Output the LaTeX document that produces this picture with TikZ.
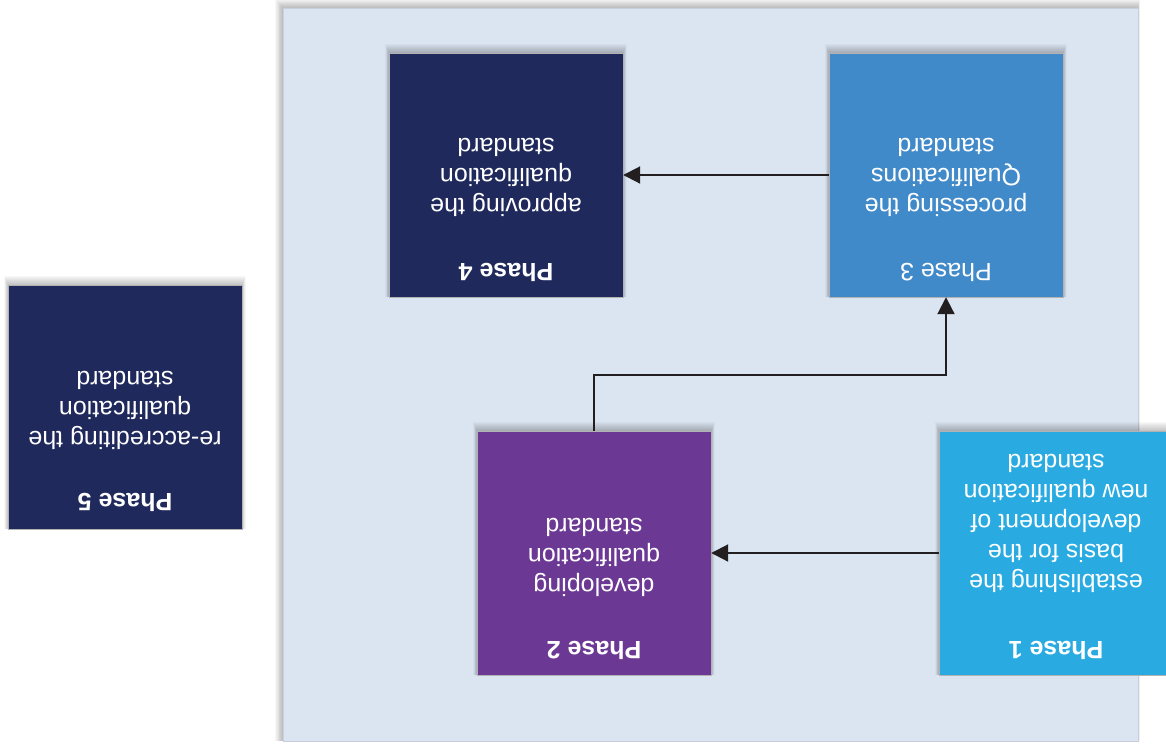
\documentclass[tikz,border=0pt]{standalone}
\usepackage{fontspec}
\setmainfont{Liberation Sans}
\usetikzlibrary{arrows.meta}
\definecolor{panelbg}{HTML}{DAE5F1}
\definecolor{panelln}{HTML}{C5D0DC}
\definecolor{navy}{HTML}{1F295C}
\definecolor{midblue}{HTML}{418AC9}
\definecolor{purple}{HTML}{6B3894}
\definecolor{skyblue}{HTML}{29ABE2}
\definecolor{arrowc}{HTML}{231F20}
\newcommand\mkshadow[4]{%
  \foreach \d in {1,...,9}{%
    \fill[black,opacity=0.028] (#1-\d*0.4,#2-\d) rectangle (#3+\d*0.4,#4);}}
\tikzset{
  phasebox/.style={rectangle,minimum width=234pt,minimum height=244pt,inner sep=0pt,draw=white!70!black,line width=0.4pt},
  phtitle/.style={rotate=180,text=white,font=\fontsize{25}{30}\selectfont\bfseries,inner sep=0pt},
  phbody/.style={rotate=180,text=white,align=center,font=\fontsize{25}{30}\selectfont,inner sep=0pt},
  arr/.style={draw=arrowc,line width=2pt,-{Triangle[length=17pt,width=17pt]}}
}
\begin{document}
\begin{tikzpicture}[x=1pt,y=-1pt]
\useasboundingbox (0,0) rectangle (1166,744);
% panel shadow
\foreach \d in {1,...,9}{%
  \fill[black,opacity=0.03] (283-\d*0.9,8-\d) rectangle (1138+\d*0.2,741);}
\fill[panelbg] (283,8) rectangle (1138,741);
\draw[panelln,line width=0.8pt] (283,8) rectangle (1138,741);
% box shadows
\mkshadow{389}{53}{623}{297}
\mkshadow{829}{53}{1063}{297}
\mkshadow{477}{431}{711}{675}
\mkshadow{939}{431}{1173}{675}
\mkshadow{8}{285}{242}{529}
% boxes
\node[phasebox,fill=navy] (p4) at (506,175) {};
\node[phasebox,fill=midblue] (p3) at (946,175) {};
\node[phasebox,fill=purple] (p2) at (594,553) {};
\node[phasebox,fill=skyblue] (p1) at (1056,553) {};
\node[phasebox,fill=navy] (p5) at (125,407) {};
% titles
\node[phtitle] (t4) at (506,272) {Phase 4};
\node[phtitle,font=\fontsize{25}{30}\selectfont] (t3) at (946,272) {Phase 3};
\node[phtitle] (t2) at (594,650) {Phase 2};
\node[phtitle] (t1) at (1056,650) {Phase 1};
\node[phtitle] (t5) at (125,502) {Phase 5};
% bodies
\node[phbody] (b4) at (506,177) {approving the\\qualification\\standard};
\node[phbody] (b3) at (946,177) {processing the\\Qualifications\\standard};
\node[phbody] (b2) at (594,557) {developing\\qualification\\standard};
\node[phbody] (b1) at (1056,523) {establishing the\\basis for the\\development of\\new qualification\\standard};
\node[phbody] (b5) at (125,410) {re-accrediting the\\qualification\\standard};
% connectors
\draw[arr] (p3.west) -- (p4.east);
\draw[arr] (p1.west) -- (p2.east);
\coordinate (elb) at (594,375);
\draw[arr] (p2.north) -- (elb) -| (p3.south);
\end{tikzpicture}
\end{document}
